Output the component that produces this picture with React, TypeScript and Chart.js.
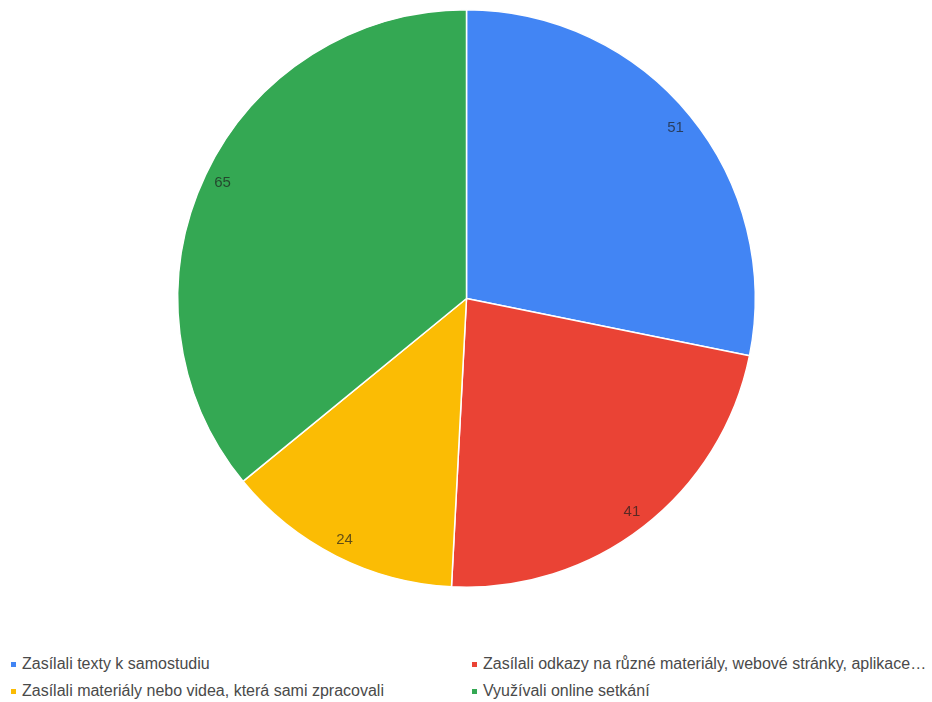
import React, { useEffect, useRef } from "react";
import { Chart, registerables } from "chart.js";

Chart.register(...registerables);

const categories = [
  "Zasílali texty k samostudiu",
  "Zasílali odkazy na různé materiály, webové stránky, aplikace…",
  "Zasílali materiály nebo videa, která sami zpracovali",
  "Využívali online setkání",
];
const values = [51, 41, 24, 65];
const colors = ["#4285F4", "#EA4335", "#FBBC04", "#34A853"];

// legend order as laid out in the reference (two columns)
const legendOrder = [0, 1, 2, 3];

const sliceLabels = {
  id: "sliceLabels",
  afterDatasetsDraw(chart: any) {
    const ctx = chart.ctx;
    const meta = chart.getDatasetMeta(0);
    ctx.save();
    ctx.font = "15px 'Liberation Sans', Arial, sans-serif";
    ctx.fillStyle = "rgba(30,30,30,0.7)";
    ctx.textAlign = "center";
    ctx.textBaseline = "middle";
    meta.data.forEach((arc: any, i: number) => {
      const p = arc.getProps(["x", "y", "startAngle", "endAngle", "outerRadius"], true);
      const mid = (p.startAngle + p.endAngle) / 2;
      const r = p.outerRadius * 0.935;
      ctx.fillText(String(chart.data.datasets[0].data[i]), p.x + Math.cos(mid) * r, p.y + Math.sin(mid) * r);
    });
    ctx.restore();
  },
};

export default function App() {
  const ref = useRef<HTMLCanvasElement>(null);
  useEffect(() => {
    if (!ref.current) return;
    const chart = new Chart(ref.current, {
      type: "pie",
      data: {
        labels: categories,
        datasets: [
          {
            data: values,
            backgroundColor: colors,
            borderColor: "#ffffff",
            borderWidth: 1.5,
          },
        ],
      },
      options: {
        animation: false,
        responsive: false,
        maintainAspectRatio: false,
        layout: { padding: { top: 9, bottom: 12, left: 1, right: 0 } },
        plugins: {
          legend: { display: false },
          tooltip: { enabled: false },
        },
      },
      plugins: [sliceLabels],
    });
    return () => chart.destroy();
  }, []);

  const itemStyle = (col: number, row: number): React.CSSProperties => ({
    position: "absolute",
    left: col === 0 ? 11 : 472,
    top: row === 0 ? 654 : 681,
    height: 20,
    display: "flex",
    alignItems: "center",
    whiteSpace: "nowrap",
    fontFamily: "'Liberation Sans', Arial, sans-serif",
    fontSize: 16,
    color: "#4a4a4a",
  });

  return (
    <div style={{ position: "fixed", left: 0, top: 0, width: 932, height: 702, background: "#fff" }}>
      <canvas ref={ref} width={932} height={600} style={{ position: "absolute", left: 0, top: 0, width: 932, height: 600 }} />
      {legendOrder.map((idx, k) => (
        <div key={idx} style={itemStyle(k % 2, Math.floor(k / 2))}>
          <span style={{ display: "inline-block", width: 5, height: 5, background: colors[idx], marginRight: 6 }} />
          <span>{categories[idx]}</span>
        </div>
      ))}
    </div>
  );
}
